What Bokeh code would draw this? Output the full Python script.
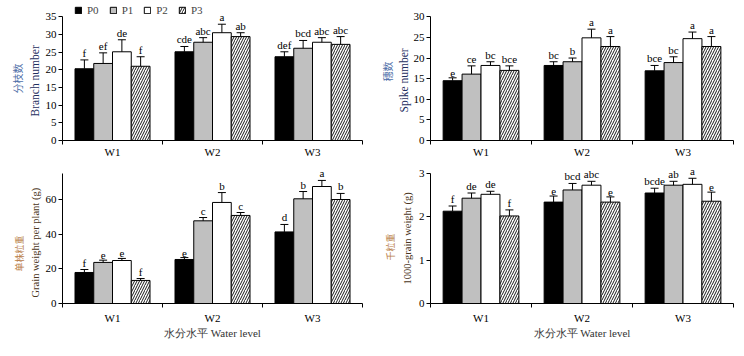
import numpy as np
from bokeh.plotting import figure
from bokeh.models import (ColumnDataSource, Range1d, FixedTicker, Whisker, TeeHead,
                          LabelSet, Legend, LegendItem, Title)
from bokeh.layouts import column, row
from bokeh.embed import file_html
from bokeh.resources import INLINE

# ---------------- data ----------------
water_levels = ["W1", "W2", "W3"]
treatments = ["P0", "P1", "P2", "P3"]

# Branch number (rows: P0..P3, cols: W1..W3)
branch_mean = [[20.3, 25.1, 23.7], [21.8, 27.8, 26.1], [25.1, 30.5, 27.8], [21.0, 29.4, 27.2]]
branch_err = [[2.5, 1.5, 1.4], [3.0, 1.3, 2.2], [3.4, 2.4, 1.3], [2.7, 1.1, 2.2]]
branch_sig = [["f", "cde", "def"], ["ef", "abc", "bcd"], ["de", "a", "abc"], ["f", "ab", "abc"]]

# Spike number
spike_mean = [[14.5, 18.2, 16.9], [16.1, 19.1, 18.9], [18.2, 24.9, 24.7], [17.0, 22.8, 22.8]]
spike_err = [[0.7, 0.9, 1.3], [2.0, 0.9, 1.4], [0.9, 2.1, 1.6], [1.1, 2.4, 2.4]]
spike_sig = [["e", "bc", "bce"], ["ce", "b", "bc"], ["bc", "a", "a"], ["bce", "a", "a"]]

# Grain weight per plant (g)
grain_mean = [[17.9, 25.4, 41.3], [23.7, 47.7, 60.4], [24.8, 58.3, 67.5], [13.3, 50.8, 60.0]]
grain_err = [[1.7, 1.1, 4.3], [1.3, 1.9, 4.2], [1.2, 5.7, 3.5], [1.1, 1.7, 3.5]]
grain_sig = [["f", "e", "d"], ["e", "c", "b"], ["e", "b", "a"], ["f", "c", "b"]]

# 1000-grain weight (g)
tgw_mean = [[2.13, 2.34, 2.55], [2.43, 2.62, 2.73], [2.52, 2.73, 2.75], [2.02, 2.34, 2.36]]
tgw_err = [[0.12, 0.14, 0.11], [0.12, 0.15, 0.09], [0.07, 0.09, 0.14], [0.14, 0.12, 0.21]]
tgw_sig = [["f", "e", "bcde"], ["de", "bcd", "ab"], ["de", "abc", "a"], ["f", "e", "e"]]

branch_ticks = [0, 5, 10, 15, 20, 25, 30, 35]
spike_ticks = [0, 5, 10, 15, 20, 25, 30]
grain_ticks = [0, 20, 40, 60]
tgw_ticks = [0, 1, 2, 3]

# ---------------- styling ----------------
SERIF = "Liberation Serif"
CJK = "Noto Sans CJK SC"
FS = "11px"
bar_fill = ["black", "#c0c0c0", "white", "white"]
BW = 0.1875


def make_panel(mean, err, sig, ymax, yticks, zh, en, zh_color, en_color,
               zh_off, en_off, zh_stand, en_stand, zh_fs, en_fs,
               width, height, bl, br, bb, frame_h_total, frame_h_axis,
               xstandoff, xlabel=None, legend=False):
    yend = ymax * frame_h_total / frame_h_axis   # frame reaches above the axis top
    p = figure(width=width, height=height, x_range=Range1d(0, 3), y_range=Range1d(0, yend),
               output_backend="svg", toolbar_location=None,
               min_border_left=bl, min_border_right=br, min_border_top=0, min_border_bottom=bb)
    p.outline_line_color = None
    p.grid.visible = False
    p.background_fill_color = "white"
    p.border_fill_color = "white"

    rends = []
    for k in range(4):
        xs = [i + 0.125 + BW * (k + 0.5) for i in range(3)]
        up = [m + e for m, e in zip(mean[k], err[k])]
        src = ColumnDataSource(dict(x=xs, top=mean[k], up=up, lab=sig[k]))
        kw = dict(fill_color=bar_fill[k], line_color="black", line_width=1)
        if k == 3:
            kw.update(hatch_pattern="/", hatch_color="black", hatch_scale=5, hatch_weight=0.9)
        r = p.vbar(x="x", top="top", width=BW, source=src, **kw)
        rends.append(r)
        wh = Whisker(base="x", lower="top", upper="up", source=src, dimension="height",
                     line_color="black", line_width=1,
                     upper_head=TeeHead(size=8, line_color="black", line_width=1),
                     lower_head=None, level="overlay")
        p.add_layout(wh)
        ls = LabelSet(x="x", y="up", text="lab", source=src, text_align="center",
                      text_baseline="bottom", y_offset=1, text_font=SERIF,
                      text_font_size=FS, text_color="black")
        p.add_layout(ls)

    # y axis
    ya = p.yaxis[0]
    ya.bounds = (0, ymax)
    ya.ticker = FixedTicker(ticks=yticks)
    ya.major_tick_in = 0
    ya.major_tick_out = 4
    ya.minor_tick_in = 0
    ya.minor_tick_out = 0
    ya.major_label_standoff = 2
    ya.major_label_text_font = SERIF
    ya.major_label_text_font_size = FS
    ya.major_label_text_color = "black"
    ya.axis_line_color = "black"
    ya.major_tick_line_color = "black"

    # x axis
    xa = p.xaxis[0]
    xa.ticker = FixedTicker(ticks=[0.5, 1.5, 2.5], minor_ticks=[0, 1, 2, 3])
    xa.major_label_overrides = {0.5: water_levels[0], 1.5: water_levels[1], 2.5: water_levels[2]}
    xa.major_tick_in = 0
    xa.major_tick_out = 0
    xa.minor_tick_in = 0
    xa.minor_tick_out = 4
    xa.minor_tick_line_color = "black"
    xa.axis_line_color = "black"
    xa.major_label_standoff = xstandoff
    xa.major_label_text_font = SERIF
    xa.major_label_text_font_size = FS
    xa.major_label_text_color = "black"
    if xlabel:
        xa.axis_label = xlabel
        xa.axis_label_text_font = SERIF
        xa.axis_label_text_font_style = "normal"
        xa.axis_label_text_font_size = FS
        xa.axis_label_text_color = "#333333"
        xa.axis_label_standoff = 0

    # y axis titles (two lines, two colours)
    p.add_layout(Title(text=en, align="left", offset=en_off, standoff=en_stand,
                       text_font=SERIF, text_font_size=en_fs, text_font_style="normal",
                       text_color=en_color), "left")
    p.add_layout(Title(text=zh, align="left", offset=zh_off, standoff=zh_stand,
                       text_font=CJK, text_font_size=zh_fs, text_font_style="normal",
                       text_color=zh_color), "left")

    if legend:
        lg = Legend(items=[LegendItem(label=t, renderers=[r]) for t, r in zip(treatments, rends)],
                    orientation="horizontal", location=(12, 124), glyph_width=8, glyph_height=8,
                    label_standoff=5, spacing=10, padding=0, margin=0, label_height=8,
                    label_width=8, border_line_color=None, background_fill_alpha=0,
                    label_text_font=SERIF, label_text_font_size=FS)
        p.add_layout(lg)
    return p


TOP_H, BOT_H = 160, 195
WL, WR = 372, 371

p1 = make_panel(branch_mean, branch_err, branch_sig, 35, branch_ticks,
                "分枝数", "Branch number", "#4f6fa8", "#1f2f5f",
                47, 24, 0, 4, "10px", "11.5px",
                WL, TOP_H, 62, 10, 14, 146, 129, 1, legend=True)
p2 = make_panel(spike_mean, spike_err, spike_sig, 30, spike_ticks,
                "穗数", "Spike number", "#4f6fa8", "#1f2f5f",
                59, 28, 0, 2, "10px", "11.5px",
                WR, TOP_H, 58, 10, 14, 146, 129, 1)
p3 = make_panel(grain_mean, grain_err, grain_sig, 75, grain_ticks,
                "单株粒重", "Grain weight per plant (g)", "#b9804a", "#4a3522",
                32, 6, 0, 4, "9px", "10.5px",
                WL, BOT_H, 62, 10, 52, 143, 130, 4,
                xlabel="水分水平 Water level")
p4 = make_panel(tgw_mean, tgw_err, tgw_sig, 3, tgw_ticks,
                "千粒重", "1000-grain weight (g)", "#b9804a", "#4a3522",
                43, 19, 0, 6, "9px", "10.5px",
                WR, BOT_H, 58, 10, 52, 143, 130, 4,
                xlabel="水分水平 Water level")

layout = column(row(p1, p2), row(p3, p4))
open("out.html", "w").write(file_html(layout, INLINE))
